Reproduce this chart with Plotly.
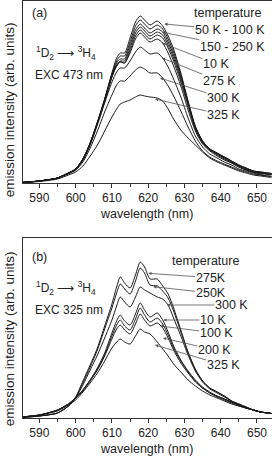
import plotly.graph_objects as go

# ---------------- data ----------------
wavelength = [585, 590, 595, 598, 600, 602, 604, 606, 608, 610, 611.3, 612.3, 613.5, 615, 616.5,
              617.8, 619, 620.5, 622.5, 624, 625.5, 627, 629, 631, 633, 635, 637, 639, 641, 643,
              645, 647, 649, 651, 653, 655]

# panel (a): EXC 473 nm
a_50K = [0.5, 2, 5, 10, 14, 24, 40, 61, 84, 110, 125, 130, 130, 145, 161, 167, 163, 158, 162, 157,
         147, 134, 110, 82, 57, 42, 34, 30, 26, 22, 18, 15, 12, 11, 10, 9]
a_100K = [0.5, 2, 5, 10, 14, 24, 40, 61, 84, 109, 122, 127, 127, 141, 157, 163, 159, 154, 158, 154,
          144, 131, 108, 81, 56, 42, 34, 30, 26, 22, 18, 15, 12, 11, 10, 9]
a_150K = [0.5, 2, 5, 10, 14, 24, 40, 60, 83, 108, 120, 124, 124, 138, 153, 159, 155, 150, 154, 151,
          141, 128, 106, 80, 56, 41, 34, 29, 25, 21, 17, 14, 12, 10, 9, 9]
a_200K = [0.5, 2, 5, 10, 14, 24, 39, 60, 83, 107, 118, 122, 122, 135, 150, 156, 152, 147, 151, 148,
          138, 125, 104, 79, 55, 41, 33, 29, 25, 21, 17, 14, 11, 10, 9, 8]
a_250K = [0.5, 2, 5, 10, 14, 23, 39, 60, 82, 106, 117, 121, 120, 132, 147, 153, 149, 144, 148, 145,
          135, 122, 101, 77, 54, 40, 33, 28, 24, 20, 16, 13, 11, 10, 9, 8]
a_10K = [0.5, 2, 5, 10, 13, 23, 39, 60, 82, 106, 117, 121, 120, 130, 144, 150, 146, 141, 144, 140,
         130, 117, 97, 73, 52, 39, 32, 27, 23, 20, 16, 13, 11, 9, 9, 8]
a_275K = [0.5, 2, 5, 10, 13, 23, 38, 58, 80, 101, 111, 115, 115, 122, 131, 136, 133, 129, 130, 125,
          116, 104, 86, 65, 47, 36, 29, 25, 21, 18, 14, 12, 10, 8, 7, 7]
a_300K = [0.5, 2, 5, 9, 13, 21, 35, 52, 71, 88, 98, 102, 102, 107, 113, 116, 114, 110, 110, 105,
          97, 87, 72, 56, 42, 32, 26, 22, 19, 16, 13, 11, 9, 8, 7, 6]
a_325K = [0.5, 1.5, 4, 8, 11, 17, 27, 38, 52, 66, 74, 79, 81, 83, 86, 88, 87, 86, 85, 82,
          74, 64, 53, 45, 38, 31, 25, 21, 18, 15, 12, 10, 8, 7, 6, 5]

# panel (b): EXC 325 nm
b_275K = [0.5, 2, 5, 12, 21, 37, 53, 70, 92, 114, 131, 141, 135, 130, 143, 156, 151, 139, 139, 132,
          124, 110, 88, 66, 49, 37, 30, 26, 22, 17, 14, 11, 8, 6, 5, 4]
b_250K = [0.5, 2, 5, 12, 20, 35, 51, 68, 89, 110, 125, 134, 129, 124, 137, 150, 145, 133, 132, 127,
          120, 107, 86, 65, 48, 37, 30, 26, 22, 17, 14, 11, 8, 6, 5, 4]
b_300K = [0.5, 2, 5, 12, 20, 33, 48, 63, 80, 98, 112, 121, 116, 111, 121, 131, 128, 125, 121, 119,
          113, 100, 82, 63, 47, 36, 29, 25, 21, 17, 13, 10, 8, 6, 5, 4]
b_10K = [1, 3, 8, 14, 20, 28, 38, 50, 65, 85, 97, 103, 97, 93, 104, 115, 108, 101, 105, 98,
         86, 72, 58, 47, 38, 31, 26, 22, 19, 16, 13, 10, 8, 6, 5, 4]
b_100K = [1, 3, 8, 14, 20, 28, 38, 49, 63, 82, 93, 98, 92, 88, 99, 110, 103, 96, 100, 94,
          83, 70, 57, 46, 37, 30, 25, 22, 19, 16, 13, 10, 8, 6, 5, 4]
b_200K = [1, 3, 8, 14, 20, 27, 37, 48, 62, 79, 89, 93, 88, 84, 94, 104, 98, 92, 95, 90,
          80, 68, 55, 45, 36, 30, 25, 21, 18, 15, 12, 10, 8, 6, 5, 4]
b_325K = [1, 3, 7, 13, 18, 26, 35, 45, 57, 70, 76, 79, 76, 74, 82, 89, 86, 84, 76, 69,
          62, 54, 46, 38, 32, 27, 23, 20, 17, 14, 12, 10, 8, 6, 5, 4]

a_series = [a_50K, a_100K, a_150K, a_200K, a_250K, a_10K, a_275K, a_300K, a_325K]
a_names = ["50 K", "100 K", "150 K", "200 K", "250 K", "10 K", "275 K", "300 K", "325 K"]
b_series = [b_275K, b_250K, b_300K, b_10K, b_100K, b_200K, b_325K]
b_names = ["275K", "250K", "300 K", "10 K", "100 K", "200 K", "325 K"]

a_labels = ["50 K - 100 K", "150 - 250 K", "10 K", "275 K", "300 K", "325 K"]
b_labels = ["275K", "250K", "300 K", "10 K", "100 K", "200 K", "325 K"]
x_ticks = [590, 600, 610, 620, 630, 640, 650]

# ---------------- figure ----------------
FONT = "Liberation Sans, Arial, sans-serif"
W, H = 272, 458
fig = go.Figure()

for ys, nm in zip(a_series, a_names):
    fig.add_trace(go.Scatter(x=wavelength, y=ys, mode="lines", name=nm,
                             line=dict(color="#1a1a1a", width=1.0, shape="spline", smoothing=0.7),
                             xaxis="x", yaxis="y", hoverinfo="skip"))
for ys, nm in zip(b_series, b_names):
    fig.add_trace(go.Scatter(x=wavelength, y=ys, mode="lines", name=nm,
                             line=dict(color="#1a1a1a", width=1.0, shape="spline", smoothing=0.7),
                             xaxis="x2", yaxis="y2", hoverinfo="skip"))

X0, X1 = 585.4, 654.0
L, R = 22.7, 271.5
def px_x(p):
    return X0 + (p - L) * (X1 - X0) / (R - L)

xdom = [L / W, R / W]
xcommon = dict(range=[X0, X1], tickmode="array", tickvals=x_ticks,
               ticktext=[str(t) for t in x_ticks], ticks="outside", ticklen=4,
               tickcolor="#333", tickwidth=1,
               minor=dict(ticks="outside", tickmode="linear", tick0=585, dtick=10, ticklen=3,
                          tickcolor="#333"),
               showline=True, linecolor="#333", linewidth=1, mirror=True,
               showgrid=False, zeroline=False,
               tickfont=dict(family=FONT, size=12, color="#222"))
ycommon = dict(showticklabels=False, ticks="", showline=True, linecolor="#333", linewidth=1,
               mirror=True, showgrid=False, zeroline=False)

fig.update_layout(
    width=W, height=H, margin=dict(l=0, r=0, t=0, b=0),
    paper_bgcolor="white", plot_bgcolor="white", showlegend=False,
    xaxis=dict(domain=xdom, anchor="y", **xcommon),
    yaxis=dict(domain=[(H - 183) / H, (H - 1) / H], anchor="x", range=[0, 182], **ycommon),
    xaxis2=dict(domain=xdom, anchor="y2", **xcommon),
    yaxis2=dict(domain=[(H - 418) / H, (H - 238) / H], anchor="x2", range=[0, 180], **ycommon),
)

ann = []
tf = dict(family=FONT, size=12.5, color="#222")

# axis titles
for yc in [214, 449]:
    ann.append(dict(text="wavelength (nm)", xref="paper", yref="paper", x=146.7 / W, y=(H - yc) / H,
                    showarrow=False, font=dict(family=FONT, size=12.5, color="#222"),
                    xanchor="center", yanchor="middle"))
for yc in [110, 339]:
    ann.append(dict(text="emission intensity (arb. units)", xref="paper", yref="paper",
                    x=9.2 / W, y=(H - yc) / H, textangle=-90, showarrow=False,
                    font=dict(family=FONT, size=13.5, color="#222"),
                    xanchor="center", yanchor="middle"))

# panel texts
def panel_text(xr, yr, base, items):
    for txt, pxl, pyc, sz in items:
        ann.append(dict(text=txt, xref=xr, yref=yr, x=px_x(pxl), y=base - pyc, showarrow=False,
                        font=dict(family=FONT, size=sz, color="#222"),
                        xanchor="left", yanchor="middle"))

panel_text("x", "y", 183, [("(a)", 30, 13.3, 12.5),
                            ("<sup>1</sup>D<sub>2</sub> ⟶ <sup>3</sup>H<sub>4</sub>", 34, 53, 12),
                            ("EXC 473 nm", 33, 75, 12),
                            ("temperature", 192, 13.3, 12.5)])
panel_text("x2", "y2", 418, [("(b)", 30, 256.7, 12.5),
                              ("<sup>1</sup>D<sub>2</sub> ⟶ <sup>3</sup>H<sub>4</sub>", 34, 288, 12),
                              ("EXC 325 nm", 33, 310, 12),
                              ("temperature", 170, 261, 12.5)])

# labelled leader arrows: (label centre x px, label y px, tip x px, tip y px)
a_geo = [(229.7, 30, 164.3, 24), (232.3, 46.7, 162, 32), (215.9, 64, 162, 43),
         (219.3, 81, 162, 58), (223.3, 98.3, 160, 78), (223.3, 115, 155, 99)]
b_geo = [(210.6, 277.7, 148.3, 273.3), (210.6, 293, 153.3, 286.7), (231.3, 305, 166.7, 305),
         (212.9, 320, 163.3, 320), (216.3, 333, 160, 326), (214.3, 350, 163, 338),
         (223.3, 365, 155, 345)]

def leaders(xr, yr, base, labels, geo):
    for txt, (cx, cy, tx, ty) in zip(labels, geo):
        ann.append(dict(text=txt, xref=xr, yref=yr, axref=xr, ayref=yr,
                        x=px_x(tx), y=base - ty, ax=px_x(cx), ay=base - cy,
                        font=tf, showarrow=True, arrowhead=2, arrowsize=0.8, arrowwidth=0.8,
                        arrowcolor="#555", borderpad=0))

leaders("x", "y", 183, a_labels, a_geo)
leaders("x2", "y2", 418, b_labels, b_geo)

fig.update_layout(annotations=ann)
fig.write_html("out.html", config={"displayModeBar": False},
               post_script="document.body.style.margin='0';document.body.style.padding='0';")
